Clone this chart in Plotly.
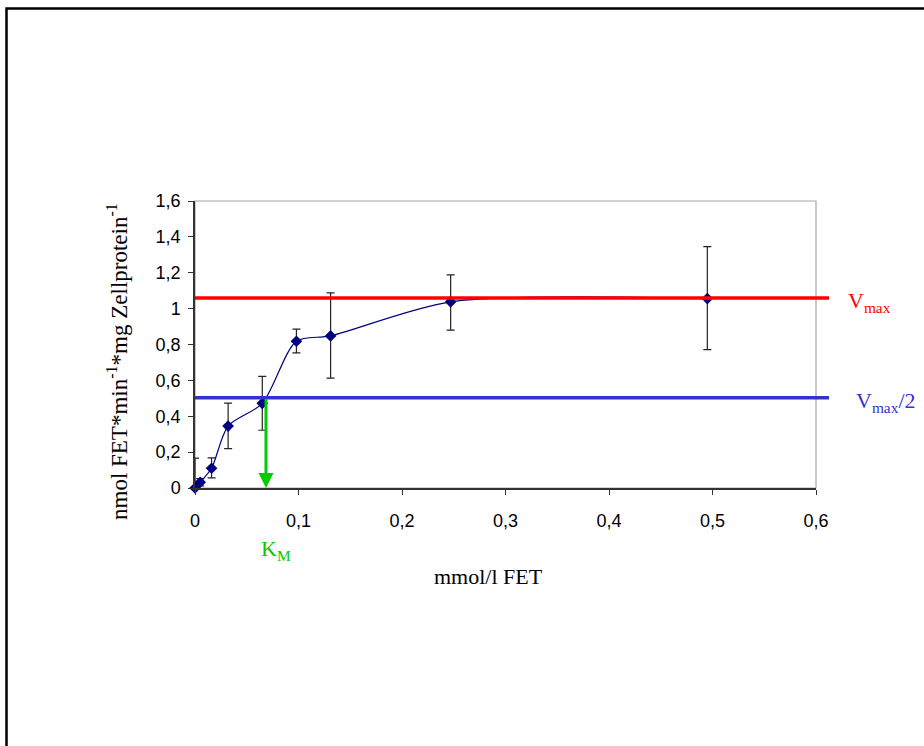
import plotly.graph_objects as go

# ---- data ----
conc = [0.0, 0.005, 0.016, 0.032, 0.065, 0.098, 0.131, 0.247, 0.495]      # mmol/l FET
rate = [0.0, 0.032, 0.11, 0.345, 0.472, 0.818, 0.848, 1.038, 1.056]         # nmol FET*min-1*mg-1
err_plus = [0.167, 0.02, 0.058, 0.128, 0.15, 0.068, 0.24, 0.15, 0.29]
err_minus = [0.0, 0.02, 0.053, 0.125, 0.15, 0.065, 0.235, 0.158, 0.285]

vmax = 1.059
vmax_half = 0.503
km = 0.0686

x_ticks = [0, 0.1, 0.2, 0.3, 0.4, 0.5, 0.6]
y_ticks = [0, 0.2, 0.4, 0.6, 0.8, 1.0, 1.2, 1.4, 1.6]
x_range = [0, 0.6]
y_range = [0, 1.6]

W, H = 924, 746
L, R, T, B = 195, 924 - 816, 201, 746 - 488
pw, ph = W - L - R, H - T - B

def px_x(p):  # pixel -> paper x
    return (p - L) / pw

def px_y(p):  # pixel -> paper y
    return (H - B - p) / ph

serif = "Liberation Serif, Times New Roman, serif"
sans = "Liberation Sans, Arial, sans-serif"
red = "#FF0000"
blue = "#3333CC"
green = "#00CC00"
navy = "#000080"

fig = go.Figure()

# error bars (clipped to plot area)
fig.add_trace(go.Scatter(
    x=conc, y=rate, mode="none",
    error_y=dict(type="data", array=err_plus, arrayminus=err_minus,
                 color="#222222", thickness=1.2, width=4),
    showlegend=False, hoverinfo="skip",
))
# smoothed line with markers
fig.add_trace(go.Scatter(
    x=conc, y=rate, mode="lines+markers",
    line=dict(color=navy, width=1.2, shape="spline", smoothing=0.8),
    marker=dict(symbol="diamond", size=9, color=navy),
    cliponaxis=False, showlegend=False,
))

shapes = [
    # plot area frame (gray)
    dict(type="rect", xref="paper", yref="paper", x0=0, x1=1, y0=0, y1=1,
         line=dict(color="#A6A6A6", width=1.2), layer="below"),
    # Vmax line
    dict(type="line", xref="paper", yref="paper", x0=0, x1=px_x(829),
         y0=vmax / y_range[1], y1=vmax / y_range[1],
         line=dict(color=red, width=3.5)),
    # Vmax/2 line
    dict(type="line", xref="paper", yref="paper", x0=0, x1=px_x(829),
         y0=vmax_half / y_range[1], y1=vmax_half / y_range[1],
         line=dict(color=blue, width=3.5)),
    # outer border
    dict(type="rect", xref="paper", yref="paper",
         x0=px_x(6.5), x1=px_x(940), y0=px_y(760), y1=px_y(8.5),
         line=dict(color="black", width=2.5)),
]

annotations = [
    # KM arrow
    dict(x=km, y=0, xref="x", yref="y", ax=km, ay=vmax_half, axref="x", ayref="y",
         text="", showarrow=True, arrowhead=2, arrowsize=1, arrowwidth=3,
         arrowcolor=green, standoff=0, startstandoff=0),
    dict(x=px_x(846), y=vmax / y_range[1], xref="paper", yref="paper",
         text="V<sub>max</sub>", showarrow=False, xanchor="left", yanchor="middle",
         yshift=-4, font=dict(family=serif, size=22, color=red)),
    dict(x=px_x(854), y=vmax_half / y_range[1], xref="paper", yref="paper",
         text="V<sub>max</sub>/2", showarrow=False, xanchor="left", yanchor="middle",
         yshift=-4, font=dict(family=serif, size=22, color=blue)),
    dict(x=px_x(259), y=px_y(550), xref="paper", yref="paper",
         text="K<sub>M</sub>", showarrow=False, xanchor="left", yanchor="middle",
         font=dict(family=serif, size=22, color=green)),
    dict(x=px_x(488), y=px_y(576), xref="paper", yref="paper",
         text="mmol/l FET", showarrow=False, xanchor="center", yanchor="middle",
         font=dict(family=serif, size=22, color="black")),
    dict(x=px_x(117), y=px_y(362), xref="paper", yref="paper",
         text="nmol FET*min<sup>-1</sup>*mg Zellprotein<sup>-1</sup>",
         textangle=-90, showarrow=False, xanchor="center", yanchor="middle",
         font=dict(family=serif, size=23, color="black")),
]

fig.update_layout(
    width=W, height=H,
    margin=dict(l=L, r=R, t=T, b=B, pad=0),
    paper_bgcolor="white", plot_bgcolor="white",
    separators=",.",
    shapes=shapes, annotations=annotations,
    xaxis=dict(range=x_range, tickvals=x_ticks, showgrid=False, zeroline=False,
               showline=True, linecolor="#333333", linewidth=1.5,
               ticks="outside", ticklen=5, tickcolor="#333333", tickwidth=1.2,
               ticklabelstandoff=11,
               tickfont=dict(family=sans, size=18, color="black")),
    yaxis=dict(range=y_range, tickvals=y_ticks, showgrid=False, zeroline=False,
               showline=True, linecolor="#333333", linewidth=1.5,
               ticks="outside", ticklen=5, tickcolor="#333333", tickwidth=1.2,
               ticklabelstandoff=4,
               tickfont=dict(family=sans, size=18, color="black")),
)

fig.write_html("out.html")
